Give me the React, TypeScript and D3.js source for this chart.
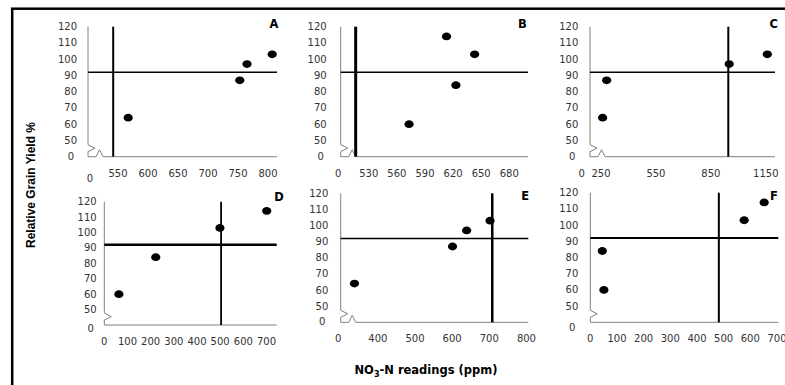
import React from "react";
import * as d3 from "d3";

// ---- data ----
const panelLetters = ["A", "B", "C", "D", "E", "F"];
const nitrateA = [567, 753, 765, 807];
const yieldA = [64, 87, 97, 103];
const nitrateB = [573, 613, 623, 643];
const yieldB = [60, 114, 84, 103];
const nitrateC = [259, 281, 950, 1158];
const yieldC = [64, 87, 97, 103];
const nitrateD = [63, 222, 499, 701];
const yieldD = [60, 84, 103, 114];
const nitrateE = [337, 601, 639, 702];
const yieldE = [64, 87, 97, 103];
const nitrateF = [45, 51, 577, 652];
const yieldF = [84, 60, 103, 114];
const criticalNitrate = [542, 516, 945, 504, 708, 482];
const criticalYield = 92;

const xTicksA = [550, 600, 650, 700, 750, 800];
const xTicksB = [530, 560, 590, 620, 650, 680];
const xTicksC = [250, 550, 850, 1150];
const xTicksD = [100, 200, 300, 400, 500, 600, 700];
const xTicksE = [400, 500, 600, 700, 800];
const xTicksF = [100, 200, 300, 400, 500, 600, 700];
const xDomainA = [500, 815];
const xDomainB = [500, 700];
const xDomainC = [190, 1200];
const xDomainD = [0, 744];
const xDomainE = [300, 805];
const xDomainF = [0, 705];
const yTickValues = [50, 60, 70, 80, 90, 100, 110, 120];
const yDomain = [40, 120];
const zeroLabel = "0";

const xTitle = "readings (ppm)";
const yTitle = "Relative Grain Yield %";

const panelData = [
  { x: nitrateA, y: yieldA, ticks: xTicksA, domain: xDomainA },
  { x: nitrateB, y: yieldB, ticks: xTicksB, domain: xDomainB },
  { x: nitrateC, y: yieldC, ticks: xTicksC, domain: xDomainC },
  { x: nitrateD, y: yieldD, ticks: xTicksD, domain: xDomainD },
  { x: nitrateE, y: yieldE, ticks: xTicksE, domain: xDomainE },
  { x: nitrateF, y: yieldF, ticks: xTicksF, domain: xDomainF },
];

// ---- layout ----
const frames = [
  { left: 88, right: 277, top: 26.7, bottom: 156.7, gap: 11, x0dx: 2, x0dy: 5, y0dy: 0, caret: true, lx: 274, ly: 28, vW: 2, hW: 1.5 },
  { left: 340.7, right: 528, top: 26.7, bottom: 156.7, gap: 14, x0dx: -2.5, x0dy: 0, y0dy: 0, caret: true, lx: 522.3, ly: 28, vW: 3, hW: 1.5 },
  { left: 590, right: 775, top: 26.7, bottom: 156.7, gap: 11.7, x0dx: -8.3, x0dy: 0, y0dy: 0, caret: true, lx: 773.7, ly: 28, vW: 2, hW: 1.5 },
  { left: 104.3, right: 276.7, top: 201.7, bottom: 325, gap: 7.6, x0dx: 0, x0dy: 0, y0dy: 3.5, caret: false, lx: 279, ly: 200.7, vW: 1.8, hW: 2.5 },
  { left: 340.7, right: 528.3, top: 193.3, bottom: 322.3, gap: 12.4, x0dx: -2.4, x0dy: 0, y0dy: -1, caret: true, lx: 525.2, ly: 200, vW: 2.5, hW: 1.5 },
  { left: 590.3, right: 778.3, top: 192.7, bottom: 322.3, gap: 12, x0dx: 0, x0dy: 0, y0dy: 5, caret: false, lx: 774, ly: 200, vW: 2, hW: 2 },
];

const W = 785;
const H = 385;
const tickFont = "'DejaVu Sans', sans-serif";
const axisColor = "#808080";
const textColor = "#333";

function Panel({ i }: { i: number }) {
  const f = frames[i];
  const d = panelData[i];
  const x = d3.scaleLinear().domain(d.domain).range([f.left, f.right]);
  const y = d3.scaleLinear().domain(yDomain).range([f.bottom, f.top]);
  const b = y(yDomain[0]);
  const L = f.left;
  const yAxisPath = `M${L},${y(yDomain[1])} V${b - 12} L${L + 7},${b - 8.5} L${L},${b - 5} V${b}`;
  const xAxisPath = f.caret
    ? `M${L},${b} H${L + 8} L${L + 11.5},${b - 7} L${L + 15},${b} H${f.right}`
    : `M${L},${b} H${f.right}`;
  const cx = x(criticalNitrate[i]);
  const cy = y(criticalYield);
  return (
    <g>
      <path d={yAxisPath} fill="none" stroke={axisColor} strokeWidth={1} />
      <path d={xAxisPath} fill="none" stroke={axisColor} strokeWidth={1} />
      {yTickValues.map((t) => (
        <text key={"y" + t} x={L - f.gap} y={y(t)} textAnchor="end" dominantBaseline="central"
          fontFamily={tickFont} fontSize={10} fill={textColor}>{t}</text>
      ))}
      <text x={L - f.gap - 6} y={b + f.y0dy} textAnchor="middle" dominantBaseline="central"
        fontFamily={tickFont} fontSize={10} fill={textColor}>{zeroLabel}</text>
      {d.ticks.map((t) => (
        <text key={"x" + t} x={x(t)} y={b + 16.5} textAnchor="middle" dominantBaseline="central"
          fontFamily={tickFont} fontSize={10} fill={textColor}>{t}</text>
      ))}
      <text x={L + f.x0dx} y={b + 16.5 + f.x0dy} textAnchor="middle" dominantBaseline="central"
        fontFamily={tickFont} fontSize={10} fill={textColor}>{zeroLabel}</text>
      <line x1={f.left} x2={f.right} y1={cy} y2={cy} stroke="#000" strokeWidth={f.hW} />
      <line x1={cx} x2={cx} y1={y(yDomain[1])} y2={b} stroke="#000" strokeWidth={f.vW} />
      {d.x.map((v, k) => (
        <ellipse key={k} cx={x(v)} cy={y(d.y[k])} rx={4.6} ry={3.9} fill="#000" />
      ))}
      <text x={f.lx} y={f.ly} textAnchor="middle" fontFamily={tickFont} fontWeight="bold"
        fontSize={11.5} fill="#000">{panelLetters[i]}</text>
    </g>
  );
}

export default function App() {
  return (
    <svg width={W} height={H} style={{ position: "absolute", left: 0, top: 0, background: "#fff" }}>
      <rect x={0} y={0} width={W} height={H} fill="#fff" />
      <rect x={12.2} y={8.7} width={800} height={420} fill="none" stroke="#000" strokeWidth={2.5} />
      {panelLetters.map((_, i) => <Panel key={i} i={i} />)}
      <text x={426} y={374} textAnchor="middle" fontFamily={tickFont} fontWeight="bold" fontSize={11.5} fill="#000">
        NO<tspan fontSize={8} dy={3}>3</tspan><tspan dy={-3}>-N </tspan>{xTitle}
      </text>
      <text transform="translate(35,185) rotate(-90)" textAnchor="middle"
        fontFamily="'Liberation Sans', Arial, sans-serif" fontWeight="bold" fontSize={12} fill="#000">{yTitle}</text>
    </svg>
  );
}
